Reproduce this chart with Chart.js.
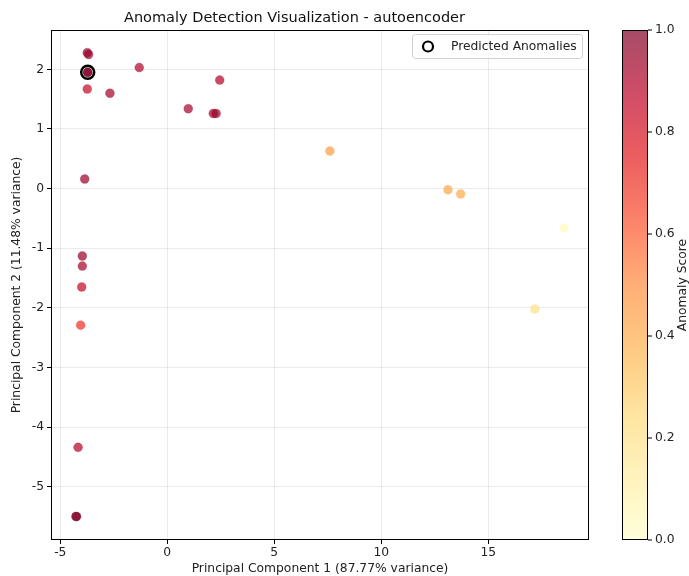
<!DOCTYPE html>
<html>
<head>
<meta charset="utf-8">
<script src="https://cdn.jsdelivr.net/npm/chart.js@4"></script>
<style>
  html, body { margin: 0; padding: 0; background: #fff; }
  #wrap { width: 689px; height: 576px; }
</style>
</head>
<body>
<div id="wrap"><canvas id="chart" width="689" height="576"></canvas></div>
<script>
// values
const pc1 = [-3.74, -3.68, -3.72, -3.72, -3.74, -2.68, -1.31, 2.45, 0.98, 2.15, 2.28, -3.86,
             -3.97, -3.97, -4.00, -4.05, -4.17, -4.27, -4.24, 7.60, 13.12, 13.71, 18.54, 17.18];
const pc2 = [2.28, 2.25, 1.95, 1.95, 1.67, 1.60, 2.03, 1.82, 1.34, 1.26, 1.26, 0.16,
             -1.13, -1.30, -1.65, -2.29, -4.34, -5.50, -5.50, 0.63, -0.02, -0.09, -0.66, -2.02];
const scores = [0.97, 0.95, 1.0, 1.0, 0.85, 0.93, 0.9, 0.9, 0.92, 0.93, 0.96, 0.95,
                0.95, 0.93, 0.86, 0.7, 0.9, 1.0, 1.0, 0.45, 0.42, 0.4, 0.04, 0.2];
const anomalyX = [-3.72];
const anomalyY = [1.95];

const xTicks = [-5, 0, 5, 10, 15];
const yTicks = [-5, -4, -3, -2, -1, 0, 1, 2];
const cbTicks = [0.0, 0.2, 0.4, 0.6, 0.8, 1.0];

// YlOrRd
const ylorrd = [[255,255,204],[255,237,160],[254,217,118],[254,178,76],[253,141,60],
                [252,78,42],[227,26,28],[189,0,38],[128,0,38]];
function cmap(t, a) {
    t = Math.max(0, Math.min(1, t));
    const p = t * (ylorrd.length - 1);
    const i = Math.min(Math.floor(p), ylorrd.length - 2);
    const f = p - i;
    const c = ylorrd[i].map((v, k) => Math.round(v + (ylorrd[i + 1][k] - v) * f));
    return 'rgba(' + c[0] + ',' + c[1] + ',' + c[2] + ',' + a + ')';
}

const FONT = 'DejaVu Sans';
const FS = 12.3;

const framePlugin = {
    id: 'frame',
    afterDraw(chart) {
        const ctx = chart.ctx;
        const a = chart.chartArea;
        ctx.save();
        ctx.strokeStyle = '#000';
        ctx.lineWidth = 1;
        ctx.strokeRect(a.left + 0.5, a.top + 0.5, a.right - a.left - 1, a.bottom - a.top - 1);

        // legend box
        const lx = 412, ly = 34, lw = 170, lh = 24;
        ctx.fillStyle = 'rgba(255,255,255,0.8)';
        ctx.strokeStyle = '#d0d0d0';
        ctx.beginPath();
        ctx.roundRect(lx + 0.5, ly + 0.5, lw, lh, 3);
        ctx.fill();
        ctx.stroke();
        ctx.strokeStyle = '#000';
        ctx.lineWidth = 2.2;
        ctx.beginPath();
        ctx.arc(lx + 16, ly + 12.5, 5, 0, Math.PI * 2);
        ctx.stroke();
        ctx.fillStyle = '#222';
        ctx.font = FS + 'px ' + FONT;
        ctx.textBaseline = 'middle';
        ctx.textAlign = 'left';
        ctx.fillText(chart.data.datasets[1].label, lx + 39, ly + 12.5);

        // colorbar
        const cx = 622, cw = 26, top = a.top, bot = a.bottom;
        const g = ctx.createLinearGradient(0, bot, 0, top);
        for (let i = 0; i <= 20; i++) g.addColorStop(i / 20, cmap(i / 20, 0.7));
        ctx.fillStyle = g;
        ctx.fillRect(cx, top, cw, bot - top);
        ctx.strokeStyle = '#000';
        ctx.lineWidth = 1;
        ctx.strokeRect(cx + 0.5, top + 0.5, cw - 1, bot - top - 1);
        ctx.fillStyle = '#222';
        cbTicks.forEach(v => {
            const y = bot - v * (bot - top);
            ctx.beginPath();
            ctx.moveTo(cx + cw, y);
            ctx.lineTo(cx + cw + 4, y);
            ctx.stroke();
            ctx.fillText(v.toFixed(1), cx + cw + 7, y);
        });
        ctx.save();
        ctx.translate(683, (top + bot) / 2);
        ctx.rotate(-Math.PI / 2);
        ctx.textAlign = 'center';
        ctx.fillText('Anomaly Score', 0, 0);
        ctx.restore();
        ctx.restore();
    }
};

const points = pc1.map((x, i) => ({ x, y: pc2[i] }));

new Chart(document.getElementById('chart'), {
    type: 'scatter',
    data: {
        datasets: [{
            label: 'Scores',
            data: points,
            pointRadius: 4.5,
            pointHoverRadius: 4.5,
            pointBorderWidth: 0.5,
            pointBackgroundColor: scores.map(s => cmap(s, 0.7)),
            pointBorderColor: scores.map(s => cmap(s, 0.4))
        }, {
            label: 'Predicted Anomalies',
            data: anomalyX.map((x, i) => ({ x, y: anomalyY[i] })),
            pointRadius: 6.5,
            pointHoverRadius: 6.5,
            pointBorderWidth: 2.5,
            pointBackgroundColor: 'rgba(0,0,0,0)',
            pointBorderColor: '#000'
        }]
    },
    options: {
        responsive: false,
        animation: false,
        events: [],
        layout: { padding: { left: 0, right: 100, top: 0, bottom: 0 } },
        plugins: {
            legend: { display: false },
            tooltip: { enabled: false },
            title: {
                display: true,
                text: 'Anomaly Detection Visualization - autoencoder',
                color: '#111',
                font: { family: FONT, size: 14.5, weight: 'normal' },
                padding: { top: 9.5, bottom: 3.1 }
            }
        },
        scales: {
            x: {
                type: 'linear',
                min: -5.435,
                max: 19.71,
                afterBuildTicks: s => { s.ticks = xTicks.map(v => ({ value: v })); },
                afterFit: s => { s.height = 36; },
                grid: { color: 'rgba(0,0,0,0.08)', tickLength: 4, tickColor: '#000', drawTicks: true },
                border: { display: false },
                ticks: { color: '#222', padding: 1, font: { family: FONT, size: FS } },
                title: {
                    display: true,
                    text: 'Principal Component 1 (87.77% variance)',
                    color: '#222',
                    font: { family: FONT, size: FS },
                    padding: { top: 0, bottom: 0 }
                }
            },
            y: {
                type: 'linear',
                min: -5.894,
                max: 2.66,
                afterBuildTicks: s => { s.ticks = yTicks.map(v => ({ value: v })); },
                afterFit: s => { s.width = 51; },
                grid: { color: 'rgba(0,0,0,0.08)', tickLength: 4, tickColor: '#000' },
                border: { display: false },
                ticks: { color: '#222', padding: 3, font: { family: FONT, size: FS } },
                title: {
                    display: true,
                    text: 'Principal Component 2 (11.48% variance)',
                    color: '#222',
                    font: { family: FONT, size: FS },
                    padding: { top: 9, bottom: 0 }
                }
            }
        }
    },
    plugins: [framePlugin]
});
</script>
</body>
</html>
